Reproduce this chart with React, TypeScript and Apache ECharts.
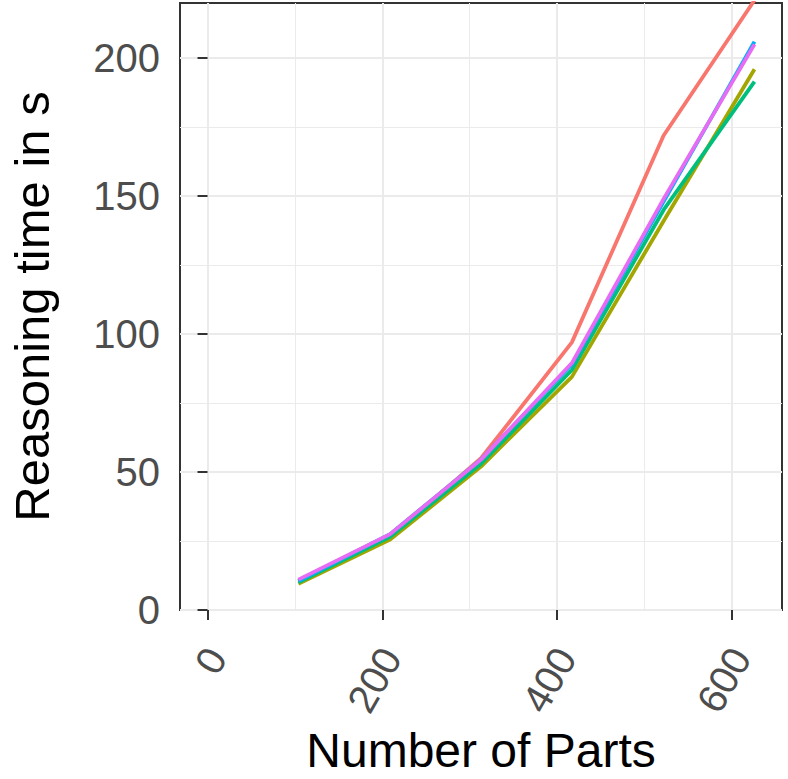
import React, { useEffect, useRef } from "react";
import * as echarts from "echarts";

const parts = [104, 209, 313, 417, 522, 626];
const seriesNames = ["A", "B", "C", "D", "E"];
const seriesColors = ["#F8766D", "#A3A500", "#00BF7D", "#00B0F6", "#E76BF3"];
const redValues = [10.5, 26.5, 55, 97, 172, 221];
const oliveValues = [9.5, 25.5, 52, 84.5, 141, 196];
const greenValues = [10, 26.5, 53, 87, 145, 191.5];
const blueValues = [10.5, 27.5, 54.5, 89, 148, 206];
const pinkValues = [11, 27.5, 54.5, 89.5, 149, 205];
const xTicks = [0, 200, 400, 600];
const yTicks = [0, 50, 100, 150, 200];

export default function App() {
  const ref = useRef<HTMLDivElement>(null);
  useEffect(() => {
    if (!ref.current) return;
    const chart = echarts.init(ref.current, undefined, { renderer: "svg" });
    const all = [redValues, oliveValues, greenValues, blueValues, pinkValues];
    const font = "'Liberation Sans', Arial, sans-serif";
    chart.setOption({
      animation: false,
      backgroundColor: "#ffffff",
      grid: {
        left: 180,
        top: 3,
        width: 602,
        height: 607,
        show: true,
        borderColor: "#333333",
        borderWidth: 2,
        backgroundColor: "transparent",
        containLabel: false,
        outerBoundsMode: "none",
      },
      xAxis: {
        type: "value",
        min: -31.5,
        max: 657.5,
        splitNumber: 4,
        name: "Number of Parts",
        nameLocation: "middle",
        nameGap: 114,
        nameTextStyle: { color: "#000000", fontSize: 48, lineHeight: 46, fontFamily: font },
        axisLine: { show: false },
        axisTick: {
          show: true,
          length: 10,
          customValues: xTicks,
          lineStyle: { color: "#333333", width: 2 },
        },
        axisLabel: {
          customValues: xTicks,
          rotate: 60,
          margin: 36,
          verticalAlign: "top",
          lineHeight: 20,
          color: "#4D4D4D",
          fontSize: 40,
          fontFamily: font,
          formatter: (v: number) => (xTicks.includes(v) ? String(v) : ""),
        },
        splitLine: { show: true, lineStyle: { color: "#EBEBEB", width: 2 } },
        minorTick: { show: false, splitNumber: 2 },
        minorSplitLine: { show: true, lineStyle: { color: "#EBEBEB", width: 1 } },
      },
      yAxis: {
        type: "value",
        min: 0,
        max: 220,
        splitNumber: 4,
        name: "Reasoning time in s",
        nameLocation: "middle",
        nameRotate: 90,
        nameGap: 124,
        nameTextStyle: { color: "#000000", fontSize: 49, fontFamily: font },
        axisLine: { show: false },
        axisTick: {
          show: true,
          length: 10,
          customValues: yTicks,
          lineStyle: { color: "#333333", width: 2 },
        },
        axisLabel: {
          customValues: yTicks,
          margin: 20,
          color: "#4D4D4D",
          fontSize: 40,
          fontFamily: font,
          formatter: (v: number) => (yTicks.includes(v) ? String(v) : ""),
        },
        splitLine: { show: true, lineStyle: { color: "#EBEBEB", width: 2 } },
        minorTick: { show: false, splitNumber: 2 },
        minorSplitLine: { show: true, lineStyle: { color: "#EBEBEB", width: 1 } },
      },
      series: all.map((vals, i) => ({
        name: seriesNames[i],
        type: "line",
        data: parts.map((p, j) => [p, vals[j]]),
        showSymbol: false,
        symbol: "none",
        clip: true,
        lineStyle: { color: seriesColors[i], width: 3.8 },
        itemStyle: { color: seriesColors[i] },
        z: 2 + i,
      })),
    });
    return () => chart.dispose();
  }, []);
  return <div ref={ref} style={{ width: 788, height: 779, position: "absolute", left: 0, top: 0 }} />;
}
